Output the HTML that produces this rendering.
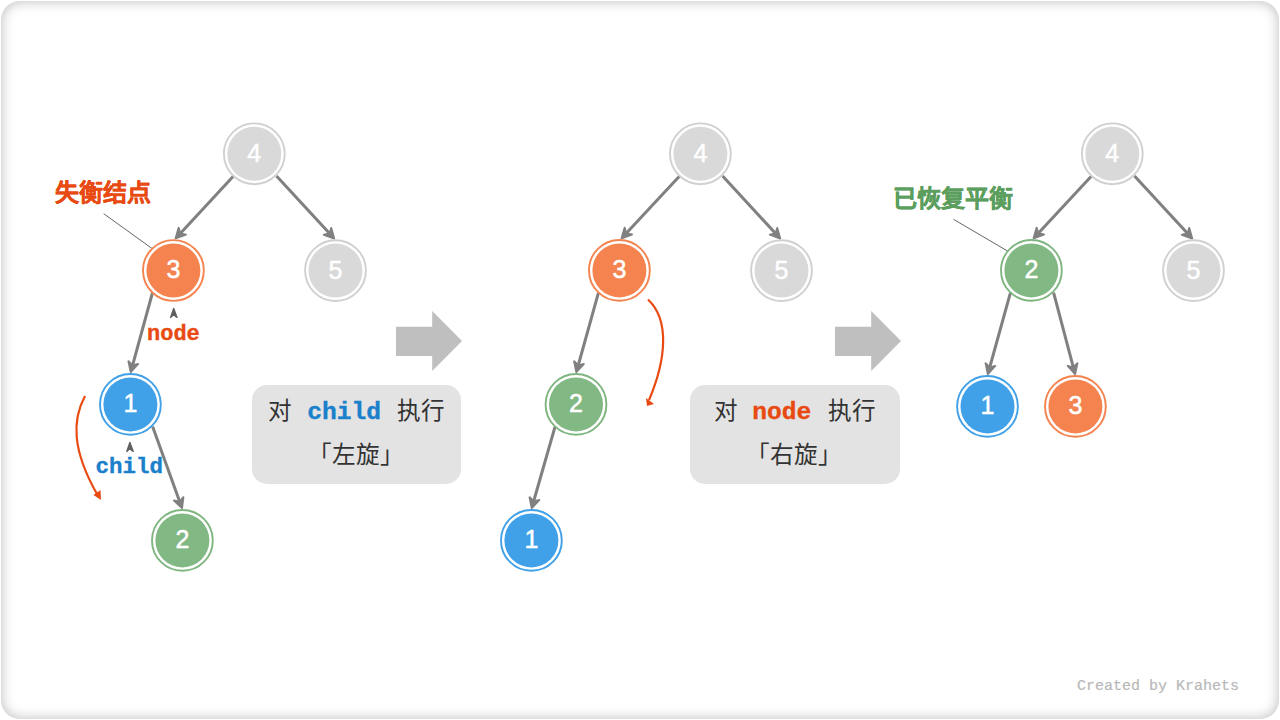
<!DOCTYPE html>
<html lang="zh-CN"><head><meta charset="utf-8">
<style>
html,body{margin:0;padding:0;background:#fff;width:1280px;height:720px;overflow:hidden}
.frame{position:absolute;left:1px;top:1px;width:1278px;height:718px;border-radius:19px;box-shadow:inset 0 0 13px rgba(0,0,0,0.27);}
svg{position:absolute;left:0;top:0}
.num{font-family:"Liberation Sans",sans-serif;font-size:25px;fill:#fff;stroke:#fff;stroke-width:0.5px;text-anchor:middle}
.cjkb{font-family:"Liberation Sans",sans-serif;font-weight:bold;font-size:24px;stroke-width:0.35px}
.cjk{font-family:"Liberation Sans",sans-serif;font-size:23.6px;fill:#333}
.mono{font-family:"Liberation Mono",monospace;font-weight:bold;stroke-width:0.35px}
.credit{font-family:"Liberation Mono",monospace;font-size:15px;fill:#b8b8b8;stroke:#b8b8b8;stroke-width:0.2px}
</style></head><body>
<div class="frame"></div>
<svg width="1280" height="720" viewBox="0 0 1280 720">
<!-- leader lines -->
<line x1="103.7" y1="213.7" x2="152.3" y2="248.7" stroke="#666" stroke-width="1"/>
<line x1="953.5" y1="219.3" x2="1007.8" y2="251.2" stroke="#666" stroke-width="1"/>
<line x1="233.3" y1="176.3" x2="179.6" y2="234.2" stroke="#808080" stroke-width="3"/>
<path transform="translate(174.8,239.3) rotate(132.9)" d="M-1.2,0 L-11,-5 L-8,0 L-11,5 Z" fill="#808080" stroke="#808080" stroke-width="2" stroke-linejoin="round"/>
<line x1="276.5" y1="176.0" x2="330.3" y2="234.3" stroke="#808080" stroke-width="3"/>
<path transform="translate(335.0,239.4) rotate(47.3)" d="M-1.2,0 L-11,-5 L-8,0 L-11,5 Z" fill="#808080" stroke="#808080" stroke-width="2" stroke-linejoin="round"/>
<line x1="152.4" y1="293.0" x2="132.3" y2="366.4" stroke="#808080" stroke-width="3"/>
<path transform="translate(130.4,373.2) rotate(105.3)" d="M-1.2,0 L-11,-5 L-8,0 L-11,5 Z" fill="#808080" stroke="#808080" stroke-width="2" stroke-linejoin="round"/>
<line x1="152.6" y1="426.6" x2="180.0" y2="502.6" stroke="#808080" stroke-width="3"/>
<path transform="translate(182.4,509.2) rotate(70.2)" d="M-1.2,0 L-11,-5 L-8,0 L-11,5 Z" fill="#808080" stroke="#808080" stroke-width="2" stroke-linejoin="round"/>
<line x1="679.4" y1="176.3" x2="625.6" y2="234.1" stroke="#808080" stroke-width="3"/>
<path transform="translate(620.8,239.2) rotate(133.0)" d="M-1.2,0 L-11,-5 L-8,0 L-11,5 Z" fill="#808080" stroke="#808080" stroke-width="2" stroke-linejoin="round"/>
<line x1="722.6" y1="176.0" x2="776.3" y2="234.3" stroke="#808080" stroke-width="3"/>
<path transform="translate(781.0,239.4) rotate(47.4)" d="M-1.2,0 L-11,-5 L-8,0 L-11,5 Z" fill="#808080" stroke="#808080" stroke-width="2" stroke-linejoin="round"/>
<line x1="598.4" y1="292.9" x2="577.9" y2="366.5" stroke="#808080" stroke-width="3"/>
<path transform="translate(576.0,373.2) rotate(105.6)" d="M-1.2,0 L-11,-5 L-8,0 L-11,5 Z" fill="#808080" stroke="#808080" stroke-width="2" stroke-linejoin="round"/>
<line x1="555.0" y1="426.9" x2="533.3" y2="502.5" stroke="#808080" stroke-width="3"/>
<path transform="translate(531.4,509.2) rotate(106.0)" d="M-1.2,0 L-11,-5 L-8,0 L-11,5 Z" fill="#808080" stroke="#808080" stroke-width="2" stroke-linejoin="round"/>
<line x1="1091.3" y1="176.3" x2="1037.6" y2="234.1" stroke="#808080" stroke-width="3"/>
<path transform="translate(1032.8,239.2) rotate(132.9)" d="M-1.2,0 L-11,-5 L-8,0 L-11,5 Z" fill="#808080" stroke="#808080" stroke-width="2" stroke-linejoin="round"/>
<line x1="1134.5" y1="176.0" x2="1188.3" y2="234.3" stroke="#808080" stroke-width="3"/>
<path transform="translate(1193.0,239.4) rotate(47.3)" d="M-1.2,0 L-11,-5 L-8,0 L-11,5 Z" fill="#808080" stroke="#808080" stroke-width="2" stroke-linejoin="round"/>
<line x1="1010.4" y1="292.9" x2="989.4" y2="368.5" stroke="#808080" stroke-width="3"/>
<path transform="translate(987.5,375.2) rotate(105.5)" d="M-1.2,0 L-11,-5 L-8,0 L-11,5 Z" fill="#808080" stroke="#808080" stroke-width="2" stroke-linejoin="round"/>
<line x1="1053.6" y1="292.6" x2="1073.6" y2="368.4" stroke="#808080" stroke-width="3"/>
<path transform="translate(1075.4,375.2) rotate(75.2)" d="M-1.2,0 L-11,-5 L-8,0 L-11,5 Z" fill="#808080" stroke="#808080" stroke-width="2" stroke-linejoin="round"/>
<circle cx="254.3" cy="153.8" r="30.4" fill="#fff" stroke="#d0d0d0" stroke-width="1.9"/>
<circle cx="254.3" cy="153.8" r="27.0" fill="#d9d9d9"/>
<text x="254.3" y="161.7" class="num">4</text>
<circle cx="173.4" cy="270.5" r="30.4" fill="#fff" stroke="#f5834f" stroke-width="1.9"/>
<circle cx="173.4" cy="270.5" r="27.0" fill="#f5834f"/>
<text x="173.4" y="278.4" class="num">3</text>
<circle cx="335.5" cy="270.6" r="30.4" fill="#fff" stroke="#d0d0d0" stroke-width="1.9"/>
<circle cx="335.5" cy="270.6" r="27.0" fill="#d9d9d9"/>
<text x="335.5" y="278.5" class="num">5</text>
<circle cx="130.4" cy="404.4" r="30.4" fill="#fff" stroke="#40a0e8" stroke-width="1.9"/>
<circle cx="130.4" cy="404.4" r="27.0" fill="#40a0e8"/>
<text x="130.4" y="412.3" class="num">1</text>
<circle cx="182.4" cy="540.4" r="30.4" fill="#fff" stroke="#7fb680" stroke-width="1.9"/>
<circle cx="182.4" cy="540.4" r="27.0" fill="#82b883"/>
<text x="182.4" y="548.3" class="num">2</text>
<circle cx="700.4" cy="153.8" r="30.4" fill="#fff" stroke="#d0d0d0" stroke-width="1.9"/>
<circle cx="700.4" cy="153.8" r="27.0" fill="#d9d9d9"/>
<text x="700.4" y="161.7" class="num">4</text>
<circle cx="619.4" cy="270.4" r="30.4" fill="#fff" stroke="#f5834f" stroke-width="1.9"/>
<circle cx="619.4" cy="270.4" r="27.0" fill="#f5834f"/>
<text x="619.4" y="278.3" class="num">3</text>
<circle cx="781.5" cy="270.6" r="30.4" fill="#fff" stroke="#d0d0d0" stroke-width="1.9"/>
<circle cx="781.5" cy="270.6" r="27.0" fill="#d9d9d9"/>
<text x="781.5" y="278.5" class="num">5</text>
<circle cx="576.0" cy="404.4" r="30.4" fill="#fff" stroke="#7fb680" stroke-width="1.9"/>
<circle cx="576.0" cy="404.4" r="27.0" fill="#82b883"/>
<text x="576.0" y="412.3" class="num">2</text>
<circle cx="531.4" cy="540.4" r="30.4" fill="#fff" stroke="#40a0e8" stroke-width="1.9"/>
<circle cx="531.4" cy="540.4" r="27.0" fill="#40a0e8"/>
<text x="531.4" y="548.3" class="num">1</text>
<circle cx="1112.3" cy="153.8" r="30.4" fill="#fff" stroke="#d0d0d0" stroke-width="1.9"/>
<circle cx="1112.3" cy="153.8" r="27.0" fill="#d9d9d9"/>
<text x="1112.3" y="161.7" class="num">4</text>
<circle cx="1031.4" cy="270.4" r="30.4" fill="#fff" stroke="#7fb680" stroke-width="1.9"/>
<circle cx="1031.4" cy="270.4" r="27.0" fill="#82b883"/>
<text x="1031.4" y="278.3" class="num">2</text>
<circle cx="1193.5" cy="270.6" r="30.4" fill="#fff" stroke="#d0d0d0" stroke-width="1.9"/>
<circle cx="1193.5" cy="270.6" r="27.0" fill="#d9d9d9"/>
<text x="1193.5" y="278.5" class="num">5</text>
<circle cx="987.5" cy="406.4" r="30.4" fill="#fff" stroke="#40a0e8" stroke-width="1.9"/>
<circle cx="987.5" cy="406.4" r="27.0" fill="#40a0e8"/>
<text x="987.5" y="414.3" class="num">1</text>
<circle cx="1075.4" cy="406.4" r="30.4" fill="#fff" stroke="#f5834f" stroke-width="1.9"/>
<circle cx="1075.4" cy="406.4" r="27.0" fill="#f5834f"/>
<text x="1075.4" y="414.3" class="num">3</text>
<!-- labels -->
<text x="55" y="200.5" class="cjkb" fill="#e84a12" stroke="#e84a12">失衡结点</text>
<text x="893" y="207" class="cjkb" fill="#5b9e5d" stroke="#5b9e5d">已恢复平衡</text>
<text x="147" y="340" class="mono" font-size="22" fill="#e84a12" stroke="#e84a12">node</text>
<text x="95.6" y="473" class="mono" font-size="22.5" fill="#1a80cc" stroke="#1a80cc">child</text>
<path d="M173.7,308.4 L177,317.4 L173.7,314.6 L170.6,317.4 Z" fill="#606060" stroke="#606060" stroke-width="1.4" stroke-linejoin="round"/>
<path d="M129.9,442.4 L133.2,451.4 L129.9,448.6 L126.8,451.4 Z" fill="#606060" stroke="#606060" stroke-width="1.4" stroke-linejoin="round"/>
<!-- curved arrows -->
<path d="M85,396 C72,420 72,450 97,494" fill="none" stroke="#e84a12" stroke-width="2.2"/>
<path d="M101,500 L93.5,495 L100.5,490 Z" fill="#e84a12"/>
<path d="M648,299.5 C670,320 666,360 649,400" fill="none" stroke="#e84a12" stroke-width="2.2"/>
<path d="M647,406 L646,398 L654,404 Z" fill="#e84a12"/>
<!-- block arrows -->
<path d="M396,326.7 H432.2 V311.1 L462,341.1 L432.2,371.1 V356.1 H396 Z" fill="#bfbfbf"/>
<path d="M835,326.7 H871.2 V311.1 L901,341.1 L871.2,371.1 V356.1 H835 Z" fill="#bfbfbf"/>
<!-- boxes -->
<rect x="252" y="385" width="209" height="99" rx="15" fill="#e3e3e3"/>
<rect x="690" y="385" width="210" height="99" rx="15" fill="#e3e3e3"/>
<text x="268" y="418.6" class="cjk">对</text>
<text x="307.3" y="419" class="mono" font-size="24.6" fill="#1a80cc" stroke="#1a80cc">child</text>
<text x="397" y="418.6" class="cjk">执行</text>
<text x="308" y="463" class="cjk">「左旋」</text>
<text x="714" y="418.6" class="cjk">对</text>
<text x="752.3" y="419" class="mono" font-size="24.6" fill="#e84a12" stroke="#e84a12">node</text>
<text x="828" y="418.6" class="cjk">执行</text>
<text x="746" y="463" class="cjk">「右旋」</text>
<text x="1077" y="690" class="credit">Created by Krahets</text>
</svg>
</body></html>
